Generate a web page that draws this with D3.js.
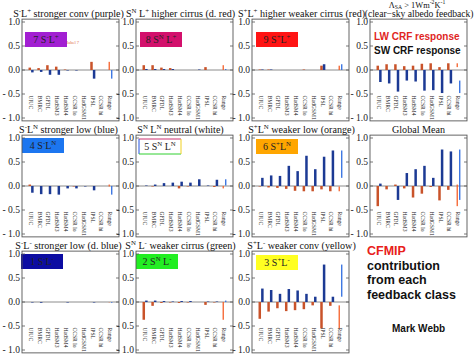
<!DOCTYPE html>
<html><head><meta charset="utf-8">
<script src="https://cdn.jsdelivr.net/npm/d3@7"></script>
<style>body{margin:0;background:#fff}svg{display:block}</style>
</head><body><svg id="c" width="474" height="355"></svg>
<script>
// ---- data ----
const categories = ["UIUC","BMRC","GFDL","HadSM3","HadSM4","CCSR lo","HadGSM1","IPSL","CCSR hi"];
const rangeLabel = "Range";
const yTicks = [1, 0.5, 0, -0.5, -1];
const yTickLabels = ["1.0","0.5","0.0","- 0.5","- 1.0"];

const lw7 = [0.05,0.04,0.10,0.07,0.01,0.00,0.00,0.17,0.00];
const sw7 = [-0.05,-0.04,-0.10,-0.10,-0.01,-0.01,0.00,-0.18,0.00];
const lw8 = [0.10,0.10,0.05,0.04,0.00,0.00,0.00,0.06,0.00];
const sw8 = [0.02,0.02,0.02,0.02,0.00,0.00,0.01,0.00,0.00];
const lw9 = [0.01,0.01,0.00,0.00,0.00,0.01,0.00,0.09,0.00];
const sw9 = [0.01,0.01,0.00,0.00,0.00,0.00,0.00,0.12,0.00];
const lwSA = [0.09,0.12,0.12,0.08,0.09,0.13,0.14,0.06,0.14];
const swSA = [-0.25,-0.28,-0.45,-0.22,-0.24,-0.43,-0.42,-0.48,-0.28];
const lw4 = [0.03,0.00,0.00,0.00,0.00,-0.01,0.00,0.00,0.00];
const sw4 = [-0.14,-0.17,-0.17,-0.18,-0.05,-0.05,-0.01,-0.09,0.00];
const lw5 = [0.00,-0.01,0.00,0.00,-0.05,-0.01,0.00,0.00,-0.02];
const sw5 = [0.01,0.03,0.06,0.07,0.09,0.07,0.14,0.01,0.13];
const lw6 = [-0.01,-0.03,-0.04,-0.06,-0.10,-0.11,-0.11,-0.07,-0.11];
const sw6 = [0.17,0.22,0.21,0.42,0.31,0.63,0.35,0.61,0.74];
const lwGM = [-0.42,-0.07,0.03,-0.05,-0.24,-0.16,-0.02,-0.30,-0.08];
const swGM = [0.05,0.00,-0.29,0.27,0.35,0.42,0.17,0.76,0.72];
const lw1 = [0,0,0,0,0,0,0,0,0];
const sw1 = [-0.01,-0.015,0,0,-0.01,0,0,-0.01,0];
const lw2 = [-0.37,-0.08,-0.02,-0.01,-0.02,-0.01,0.00,-0.06,-0.01];
const sw2 = [0.03,0.03,0.02,0.01,0.02,0.02,0.00,0.01,0.01];
const lw3 = [-0.35,-0.20,-0.13,-0.19,-0.17,-0.15,-0.07,-0.55,-0.08];
const sw3 = [0.28,0.25,0.17,0.27,0.24,0.17,0.11,0.78,0.11];

// ---- layout / style ----
const colX = [22, 136, 252, 370], plotW = 97;
const titleDx = [-2, -4, 1, 0];
const rowTop1 = [22, 138, 254]; // pixel of value 1.0
const unit = 48;
const serif = "'Liberation Serif','Times New Roman',serif";
const sans = "'Liberation Sans',Arial,Helvetica,sans-serif";
const LW = "#c9532a", SW = "#1c3a94", LWr = "#f5602a", SWr = "#2f6de0";
const titleFs = 10.1, smallTitleFs = 9.6;

const panels = [
  {r:0,c:0,lw:lw7,sw:sw7,title:"S^{-}L^{+} stronger conv (purple)",box:"7 S^{-}L^{+}",fill:"#a21fd2",bx:3,by:10},
  {r:0,c:1,lw:lw8,sw:sw8,title:"S^{N} L^{+} higher cirrus (d. red)",box:"8 S^{N} L^{+}",fill:"#d3106c",bx:4,by:10},
  {r:0,c:2,lw:lw9,sw:sw9,title:"S^{+}L^{+} higher weaker cirrus (red)",box:"9 S^{+}L^{+}",fill:"#ff1414",bx:4,by:10},
  {r:0,c:3,lw:lwSA,sw:swSA,title:null,box:null},
  {r:1,c:0,lw:lw4,sw:sw4,title:"S^{-}L^{N} stronger low (blue)",box:"4 S^{-}L^{N}",fill:"#1c76f0",bx:0,by:0},
  {r:1,c:1,lw:lw5,sw:sw5,title:"S^{N} L^{N} neutral (white)",box:"5 S^{N} L^{N}",fill:"#ffffff",bx:3,by:1,white:true},
  {r:1,c:2,lw:lw6,sw:sw6,title:"S^{+}L^{N} weaker low (orange)",box:"6 S^{+}L^{N}",fill:"#ffa600",bx:4,by:1},
  {r:1,c:3,lw:lwGM,sw:swGM,title:"Global Mean",box:null},
  {r:2,c:0,lw:lw1,sw:sw1,title:"S^{-}L^{-} stronger low (d. blue)",box:"1 S^{-}L^{-}",fill:"#0c0ca2",bx:-1,by:0},
  {r:2,c:1,lw:lw2,sw:sw2,title:"S^{N} L^{-} weaker cirrus (green)",box:"2 S^{N} L^{-}",fill:"#22ee22",bx:0,by:0},
  {r:2,c:2,lw:lw3,sw:sw3,title:"S^{+}L^{-} weaker conv (yellow)",box:"3 S^{+}L^{-}",fill:"#ffff22",bx:4,by:1},
];

const svg = d3.select("#c");

function richText(sel, str, fs) {
  const parts = str.split(/(\^\{[^}]*\}|_\{[^}]*\})/).filter(s => s.length);
  let shift = 0;
  parts.forEach(p => {
    let target = 0, txt = p, size = fs;
    if (p.startsWith("^{")) { target = -fs*0.38; txt = p.slice(2,-1); size = fs*0.68; }
    else if (p.startsWith("_{")) { target = fs*0.2; txt = p.slice(2,-1); size = fs*0.68; }
    sel.append("tspan").attr("dy", target - shift).attr("font-size", size).text(txt);
    shift = target;
  });
}

panels.forEach(p => {
  const x0 = colX[p.c], yTop = rowTop1[p.r], yZ = yTop + unit;
  const x = d3.scaleLinear().domain([0, 11]).range([x0, x0 + plotW]);
  const y = d3.scaleLinear().domain([-1.06, 1.06]).range([yZ + 1.06*unit, yZ - 1.06*unit]);
  const g = svg.append("g");

  if (p.box) {
    const bw = 42, bh = 15;
    const bxp = x0 + p.bx, byp = yTop + p.by;
    g.append("rect").attr("x", bxp).attr("y", byp).attr("width", bw).attr("height", bh).attr("fill", p.fill);
    if (p.white) {
      g.append("line").attr("x1",bxp).attr("x2",bxp+bw).attr("y1",byp).attr("y2",byp).attr("stroke","#cc3070").attr("stroke-width",1);
      g.append("line").attr("x1",bxp).attr("x2",bxp).attr("y1",byp).attr("y2",byp+bh).attr("stroke","#2050e0").attr("stroke-width",1);
      g.append("line").attr("x1",bxp).attr("x2",bxp+bw).attr("y1",byp+bh).attr("y2",byp+bh).attr("stroke","#30d030").attr("stroke-width",1);
      g.append("line").attr("x1",bxp+bw).attr("x2",bxp+bw).attr("y1",byp).attr("y2",byp+bh).attr("stroke","#f0d020").attr("stroke-width",1);
    }
    const t = g.append("text").attr("x", bxp + bw/2).attr("y", byp + bh/2 + 3.5)
      .attr("text-anchor","middle").attr("font-family", serif).attr("font-size", 10).attr("fill","#222");
    richText(t, p.box, 10);
  }

  g.append("line").attr("x1", x0).attr("x2", x0 + plotW).attr("y1", y(0)).attr("y2", y(0))
    .attr("stroke", "#8c8c8c").attr("stroke-width", 1);

  const idx = d3.range(categories.length);
  g.selectAll(".lw").data(idx).join("rect")
    .attr("x", i => x(i+1) - 2.3).attr("width", 2.5)
    .attr("y", i => y(Math.max(0, p.lw[i]))).attr("height", i => Math.abs(y(p.lw[i]) - y(0)))
    .attr("fill", LW);
  g.selectAll(".sw").data(idx).join("rect")
    .attr("x", i => x(i+1) + 0.3).attr("width", 2.5)
    .attr("y", i => y(Math.max(0, p.sw[i]))).attr("height", i => Math.abs(y(p.sw[i]) - y(0)))
    .attr("fill", SW);
  const lwExt = d3.extent(p.lw), swExt = d3.extent(p.sw);
  const xr = x(categories.length + 1);
  g.append("rect").attr("x", xr - 1.6).attr("width", 1.3).attr("y", y(lwExt[1])).attr("height", Math.max(0.3, y(lwExt[0]) - y(lwExt[1]))).attr("fill", LWr);
  g.append("rect").attr("x", xr + 0.9).attr("width", 1.3).attr("y", y(swExt[1])).attr("height", Math.max(0.3, y(swExt[0]) - y(swExt[1]))).attr("fill", SWr);

  const labs = categories.concat([rangeLabel]);
  g.selectAll(".cl").data(labs).join("text")
    .attr("transform", (d, i) => `translate(${x(i+1)},${y(-0.53)}) rotate(90)`)
    .attr("dy", "0.35em").attr("font-family", serif).attr("font-size", 5.6).attr("fill", "#222")
    .text(d => d);

  g.append("rect").attr("x", x0).attr("y", y(1.06)).attr("width", plotW).attr("height", y(-1.06) - y(1.06))
    .attr("fill", "none").attr("stroke", "#555").attr("stroke-width", 0.9);
  yTicks.forEach((v, k) => {
    g.append("line").attr("x1", x0).attr("x2", x0 + 3).attr("y1", y(v)).attr("y2", y(v)).attr("stroke","#555").attr("stroke-width",0.8);
    g.append("line").attr("x1", x0 + plotW - 3).attr("x2", x0 + plotW).attr("y1", y(v)).attr("y2", y(v)).attr("stroke","#555").attr("stroke-width",0.8);
    g.append("text").attr("x", x0 - 2).attr("y", y(v)).attr("dy", "0.35em").attr("text-anchor", "end")
      .attr("font-family", serif).attr("font-size", 9.5).attr("fill", "#222").text(yTickLabels[k]);
  });

  if (p.title) {
    const t = g.append("text").attr("x", x0 + plotW/2 + titleDx[p.c]).attr("y", yTop - 5.5).attr("text-anchor","middle")
      .attr("font-family", serif).attr("font-size", titleFs).attr("fill","#111");
    richText(t, p.title, titleFs);
  }
});

svg.append("text").attr("x", 67).attr("y", 44).attr("font-family", serif).attr("font-size", 4.5).attr("fill", "#e06a4a").text("label 7");

const t1 = svg.append("text").attr("x", 417).attr("y", 7.6).attr("text-anchor","middle").attr("font-family", serif).attr("font-size", 8.4).attr("fill","#111");
richText(t1, "Λ_{SA} > 1Wm^{-2}K^{-1}", 8.4);
svg.append("text").attr("x", 473.5).attr("y", 16.5).attr("text-anchor","end").attr("font-family", serif).attr("font-size", smallTitleFs).attr("fill","#111").text("(clear−sky albedo feedback)");

svg.append("text").attr("x", 374).attr("y", 39.5).attr("font-family", sans).attr("font-weight","bold").attr("font-size", 10).attr("fill", "#e0251e").text("LW CRF response");
svg.append("text").attr("x", 374).attr("y", 53.5).attr("font-family", sans).attr("font-weight","bold").attr("font-size", 10).attr("fill", "#111").text("SW CRF response");

const foot = [["CFMIP", "#e8201a", 255], ["contribution", "#111", 269.5], ["from each", "#111", 284], ["feedback class", "#111", 298.5]];
foot.forEach(f => svg.append("text").attr("x", 367).attr("y", f[2]).attr("font-family", sans).attr("font-weight","bold").attr("font-size", 12.5).attr("fill", f[1]).text(f[0]));
svg.append("text").attr("x", 392).attr("y", 332).attr("font-family", sans).attr("font-weight","bold").attr("font-size", 10).attr("fill", "#111").text("Mark Webb");
</script></body></html>
